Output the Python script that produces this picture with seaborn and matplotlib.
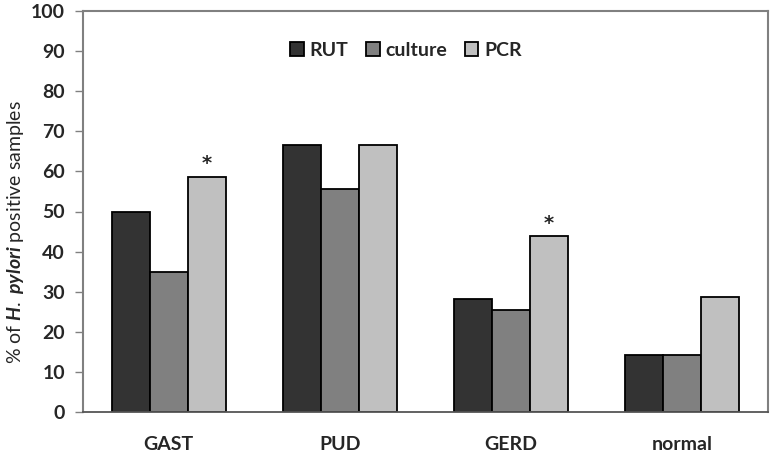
import matplotlib
matplotlib.use("Agg")
import matplotlib.pyplot as plt
import seaborn as sns
import pandas as pd
import numpy as np

categories = ["GAST", "PUD", "GERD", "normal"]
series = ["RUT", "culture", "PCR"]
rut = [50.0, 66.7, 28.3, 14.3]
culture = [34.8, 55.6, 25.5, 14.3]
pcr = [58.7, 66.7, 43.8, 28.6]
star_cats = ["GAST", "GERD"]
yticks = [0, 10, 20, 30, 40, 50, 60, 70, 80, 90, 100]

sns.set_theme(style="white")
plt.rcParams['font.family'] = ['Lato', 'DejaVu Sans']
plt.rcParams['mathtext.fontset'] = 'custom'
plt.rcParams['mathtext.it'] = 'Lato:italic:bold'
plt.rcParams['mathtext.rm'] = 'Lato'

df = pd.DataFrame({
    "category": np.repeat(categories, 3),
    "test": series * len(categories),
    "value": [v for trio in zip(rut, culture, pcr) for v in trio],
})

palette = {"RUT": "#333333", "culture": "#808080", "PCR": "#c0c0c0"}

fig = plt.figure(figsize=(7.74, 4.54), dpi=100)
ax = fig.add_axes([83/774, 1-412/454, (768-83)/774, (412-11)/454])

sns.barplot(data=df, x="category", y="value", hue="test", order=categories,
            hue_order=series, palette=palette, width=0.667, edgecolor="black",
            linewidth=1.3, saturation=1, ax=ax, legend=True)

ax.set_xlim(-0.5, 3.5)
ax.set_ylim(0, 100)
ax.set_yticks(yticks)
ax.set_yticklabels([str(t) for t in yticks], fontsize=14, fontweight="bold")
ax.set_xticks(range(len(categories)))
ax.set_xticklabels(categories, fontsize=14, fontweight="bold")
ax.set_xticks(np.arange(-0.5, 4, 1), minor=True)
ax.tick_params(axis="x", which="major", length=0, pad=17)
ax.tick_params(axis="x", which="minor", length=5, width=1, color="#808080", direction="out")
ax.tick_params(axis="y", length=6, width=1, color="#808080", direction="out", left=True, pad=7)
ax.set_xlabel("")
ax.set_ylabel(r"% of $\mathit{H.\ pylori}$ positive samples", fontsize=14,
              va="center", ha="center")
ax.yaxis.set_label_coords(16/774, 1-232/454, transform=fig.transFigure)

for s in ["left", "top", "right"]:
    ax.spines[s].set_color("#808080")
    ax.spines[s].set_linewidth(1.5)
ax.spines["bottom"].set_color("#555555")
ax.spines["bottom"].set_linewidth(1.3)

# asterisks
pcr_index = series.index("PCR")
n = len(series)
w = 0.667 / n
for c in star_cats:
    i = categories.index(c)
    xpos = i - 0.667/2 + w*(pcr_index + 0.5)
    ax.text(xpos, pcr[i] + 3.3, "*", ha="center", va="center", fontsize=14,
            fontweight="bold", family="DejaVu Sans")

handles, labels = ax.get_legend_handles_labels()
ax.legend(handles, labels, loc="center", bbox_to_anchor=(406/774, 1-50/454),
          bbox_transform=fig.transFigure, ncol=3, frameon=False,
          prop={"weight": "bold", "size": 14}, handlelength=0.7, handleheight=0.7,
          handletextpad=0.3, columnspacing=0.9)

fig.savefig("out.png", dpi=100)
